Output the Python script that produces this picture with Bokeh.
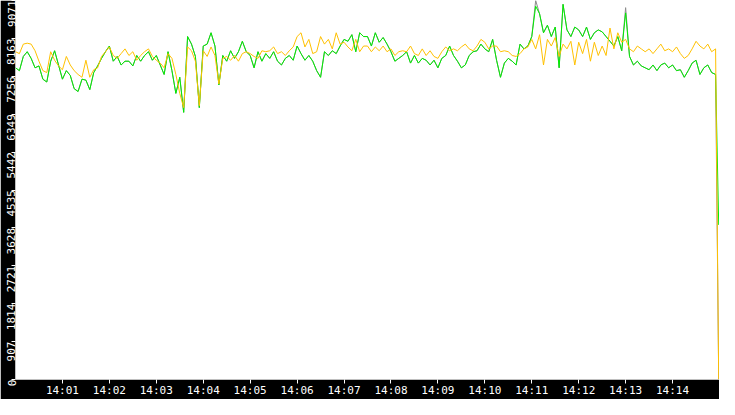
import math
import numpy as np
from bokeh.plotting import figure
from bokeh.models import Range1d, FixedTicker, ColumnDataSource
from bokeh.embed import file_html
from bokeh.resources import INLINE

# time in seconds after 14:00:00, one sample every 5 s, last sample at 14:14:59
seconds = list(range(0, 900, 5)) + [899]

green = [
    7460, 7392, 7732, 7845, 7686, 7460, 7505, 7188, 7120, 7618, 7868, 7528, 7188, 7392, 7278,
    6961, 6893, 7188, 7165, 6938, 7346, 7505, 7686, 7845, 7981, 7618, 7732, 7528, 7618, 7618,
    7505, 7755, 7618, 7755, 7845, 7641, 7755, 7528, 7301, 7845, 7392, 6848, 7233, 6394, 8208,
    8027, 7732, 6507, 7981, 8027, 8299, 7981, 7052, 7755, 7618, 7868, 7686, 7845, 8095, 7845,
    7755, 7460, 7845, 7618, 7800, 7686, 7845, 7618, 7528, 7686, 7755, 7641, 7981, 7800, 7641,
    7755, 7618, 7392, 7233, 7845, 7755, 7868, 7800, 7981, 8140, 8095, 8253, 7845, 8299, 8208,
    8208, 7981, 8299, 8072, 8185, 8027, 7845, 7618, 7686, 7755, 7845, 7573, 7755, 7573, 7686,
    7641, 7528, 7641, 7460, 7686, 7755, 7981, 7755, 7618, 7460, 7528, 7755, 7845, 7868, 8027,
    7913, 7845, 8140, 7641, 7233, 7573, 7686, 7618, 7528, 8027, 7913, 7981, 8208, 8934, 8752,
    8299, 8480, 8208, 8435, 7460, 8979, 8367, 8208, 8435, 8367, 8208, 8435, 8140, 8299, 8367,
    8321, 8208, 8095, 7981, 8208, 7868, 8775, 7732, 7528, 7618, 7505, 7460, 7414, 7528, 7392,
    7528, 7573, 7460, 7528, 7392, 7414, 7233, 7392, 7573, 7641, 7301, 7460, 7528, 7346, 7301,
    3700,
]

yellow = [
    7845, 7800, 8027, 8049, 8027, 7868, 7618, 7392, 7346, 7845, 7641, 7505, 7414, 7732, 7528,
    7392, 7301, 7233, 7641, 7233, 7414, 7460, 7732, 7845, 7959, 7755, 7686, 7800, 7913, 7755,
    7845, 7641, 7755, 7845, 7913, 7732, 7641, 7573, 7460, 7800, 7686, 7301, 6848, 6507, 7959,
    7868, 7618, 6553, 7868, 7732, 7959, 7755, 7074, 7686, 7732, 7641, 7755, 7618, 7800, 7845,
    7800, 7732, 7686, 7868, 7845, 7868, 7959, 7800, 7845, 7755, 7868, 7959, 8208, 8299, 7959,
    8140, 7800, 7845, 8208, 8027, 8140, 7913, 8299, 8027, 8072, 7959, 7868, 8140, 7845, 7981,
    7981, 7845, 7959, 7868, 7981, 7845, 7913, 7755, 7845, 7868, 7845, 7981, 7800, 7755, 7913,
    7755, 7868, 7732, 7686, 7845, 7959, 7868, 7913, 7868, 7959, 8027, 7913, 7868, 7981, 8140,
    8072, 7913, 7981, 7981, 7845, 7868, 7845, 7755, 7732, 7800, 7913, 7959, 8140, 7913, 8253,
    7528, 8140, 7981, 8185, 7732, 8027, 7913, 8095, 7528, 8072, 7800, 8140, 7618, 8072, 7755,
    7981, 7755, 8412, 7913, 8299, 8072, 8140, 7913, 7845, 7981, 7913, 7845, 7913, 7800, 7913,
    8027, 7868, 7913, 7845, 7959, 7800, 7686, 7755, 7913, 8095, 7981, 7913, 8027, 7845, 7913,
    0,
]

gray = [
    7460, 7392, 7732, 7845, 7686, 7460, 7505, 7188, 7120, 7618, 7868, 7528, 7188, 7392, 7278,
    6961, 6893, 7188, 7165, 6938, 7346, 7505, 7686, 7845, 7981, 7618, 7732, 7528, 7618, 7618,
    7505, 7755, 7618, 7755, 7845, 7641, 7755, 7528, 7301, 7845, 7392, 6848, 7233, 6394, 8208,
    8027, 7732, 6507, 7981, 8027, 8299, 7981, 7052, 7755, 7618, 7868, 7686, 7845, 8095, 7845,
    7755, 7460, 7845, 7618, 7800, 7686, 7845, 7618, 7528, 7686, 7755, 7641, 7981, 7800, 7641,
    7755, 7618, 7392, 7233, 7845, 7755, 7868, 7800, 7981, 8140, 8095, 8253, 7845, 8299, 8208,
    8208, 7981, 8299, 8072, 8185, 8027, 7845, 7618, 7686, 7755, 7845, 7573, 7755, 7573, 7686,
    7641, 7528, 7641, 7460, 7686, 7755, 7981, 7755, 7618, 7460, 7528, 7755, 7845, 7868, 8027,
    7913, 7845, 8140, 7641, 7233, 7573, 7686, 7618, 7528, 8027, 7913, 7981, 8208, 9071, 8752,
    8299, 8480, 8208, 8435, 7460, 8979, 8367, 8208, 8435, 8367, 8208, 8435, 8140, 8299, 8367,
    8321, 8208, 8095, 7981, 8208, 7868, 8900, 7732, 7528, 7618, 7505, 7460, 7414, 7528, 7392,
    7528, 7573, 7460, 7528, 7392, 7414, 7233, 7392, 7573, 7641, 7301, 7460, 7528, 7346, 7301,
    0,
]

x_tick_seconds = [60 * m for m in range(1, 15)]
x_tick_labels = ["14:01", "14:02", "14:03", "14:04", "14:05", "14:06", "14:07",
                 "14:08", "14:09", "14:10", "14:11", "14:12", "14:13", "14:14"]
y_ticks = [0, 907, 1814, 2721, 3628, 4535, 5442, 6349, 7256, 8163, 9071]
y_tick_labels = [str(v) for v in y_ticks]

source = ColumnDataSource(dict(t=seconds, gray=gray, green=green, yellow=yellow))

p = figure(width=719, height=399, output_backend="svg", toolbar_location=None,
           x_range=Range1d(0, 900), y_range=Range1d(0, 9071),
           min_border=0, min_border_left=0, min_border_bottom=0)

p.background_fill_color = "white"
p.border_fill_color = "black"
p.outline_line_color = None
p.xgrid.visible = False
p.ygrid.visible = False

p.line("t", "gray", source=source, line_color="#8c8c8c", line_width=1)
p.line("t", "green", source=source, line_color="#00ee00", line_width=1)
p.line("t", "yellow", source=source, line_color="#ffc000", line_width=1)

for ax in (p.xaxis[0], p.yaxis[0]):
    ax.axis_line_color = None
    ax.major_tick_line_color = "white"
    ax.major_tick_in = 0
    ax.major_tick_out = 4
    ax.minor_tick_line_color = None
    ax.major_label_text_color = "white"
    ax.major_label_text_font = "DejaVu Sans Mono"
    ax.major_label_text_font_size = "11px"
    ax.major_label_standoff = 0

p.xaxis.ticker = FixedTicker(ticks=x_tick_seconds)
p.xaxis.major_label_overrides = {s: l for s, l in zip(x_tick_seconds, x_tick_labels)}
p.yaxis.ticker = FixedTicker(ticks=y_ticks)
p.yaxis.major_label_overrides = {v: l for v, l in zip(y_ticks, y_tick_labels)}
p.yaxis.major_label_orientation = math.pi / 2

open("out.html", "w").write(file_html(p, INLINE))
